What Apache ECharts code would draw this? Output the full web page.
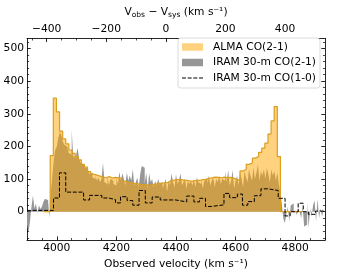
<!DOCTYPE html>
<html><head><meta charset="utf-8">
<script src="https://cdn.jsdelivr.net/npm/echarts@6/dist/echarts.min.js"></script>
<style>html,body{margin:0;padding:0;background:#fff}#c{width:364px;height:275px}</style>
</head><body><div id="c"></div>
<script>
// ALMA CO(2-1): uniform channels
const almaStart = 3957.0;
const almaWidth = 10.44;
const almaValues = [0, 0,
  172, 348, 306, 247, 223, 208, 189, 179, 169, 159,
  145, 137, 123, 115, 112, 109, 106, 104, 108, 103,
  105, 104, 102, 94, 91, 89, 87, 86, 84, 83,
  82, 81, 83, 85, 87, 88, 88, 90, 96, 97,
  98, 98, 97, 96, 94, 94, 96, 96, 98, 99,
  102, 104, 106, 105, 104, 106, 104, 105, 103, 99,
  96, 125, 130, 145, 150, 164, 170, 182, 195, 210,
  238, 278, 322, 169,
  0, 0, 0, 0, 0, 0, 0];

// IRAM 30-m CO(2-1): uniform 5 km/s channels from 3900
const iramStart = 3900;
const iramWidth = 5;
const iramValues = [
  -40, -62, -30, 15, 50, 10, 25, -5, 20, 8,
  15, 30, 40, 35, 45, -20, 60, 110, 160, 190,
  200, 225, 245, 235, 215, 205, 200, 195, 180, 175,
  250, 170, 165, 175, 195, 160, 150, 145, 140, 135,
  135, 125, 115, 120, 105, 100, 110, 95, 105, 90,
  100, 150, 90, 85, 110, 80, 100, 95, 85, 80,
  105, 85, 122, 95, 118, 100, 80, 120, 95, 110,
  95, 130, 80, 90, 105, 75, 115, 140, 135, 85,
  120, 70, 118, 90, 100, 75, 95, 80, 100, 85,
  90, 70, 85, 100, 60, 95, 80, 117, 90, 75,
  115, 85, 95, 118, 80, 90, 100, 70, 95, 85,
  95, 80, 100, 75, 105, 90, 85, 100, 70, 95,
  100, 85, 110, 80, 95, 105, 75, 100, 90, 110,
  85, 100, 95, 125, 90, 128, 80, 95, 127, 70,
  95, 110, 80, 120, 100, 75, 125, 105, 90, 130,
  110, 95, 135, 100, 120, 145, 95, 125, 110, 130,
  100, 135, 115, 90, 130, 110, 125, 95, 120, 85,
  60, 25, -20, -35, -10, 15, -30, 20, 25, -5,
  5, -10, 10, 0, -20, 15, -45, -40, 30, -50,
  10, -15, 20, 35, -30, 40, -20, 10, -15, 5];

// IRAM 30-m CO(1-0): channel edges and levels
const co10Edges = [3900, 3989, 4009, 4030, 4090, 4110, 4151, 4174, 4197, 4214,
  4236, 4255, 4276, 4297, 4320, 4347, 4399, 4436, 4460, 4479,
  4499, 4518, 4561, 4580, 4606, 4623, 4641, 4663, 4685, 4709,
  4743, 4766, 4783, 4810, 4827, 4844, 4868, 4900];
const co10Values = [4, 42, 119, 60, 36, 50, 42, 37, 27, 46,
  34, 20, 65, 27, 45, 36, 30, 48, 30, 41,
  16, 21, 56, 43, 54, 20, 31, 49, 70, 65,
  41, -13, 0, 26, 0, -8, 2];

const vSys = 4366;
const xMin = 3900, xMax = 4900;
const yMin = -87, yMax = 531;
const xMajorTicks = [4000, 4200, 4400, 4600, 4800];
const xMinorTicks = [3900, 3950, 4050, 4100, 4150, 4250, 4300, 4350, 4450, 4500, 4550, 4650, 4700, 4750, 4850, 4900];
const topMajorTicks = [-400, -200, 0, 200, 400];
const topMinorTicks = [-450, -350, -300, -250, -150, -100, -50, 50, 100, 150, 250, 300, 350, 450, 500];
const yMajorTicks = [0, 100, 200, 300, 400, 500];
const yMinorTicks = [-80, -60, -40, -20, 20, 40, 60, 80, 120, 140, 160, 180, 220, 240, 260, 280,
  320, 340, 360, 380, 420, 440, 460, 480, 520];

function uniformSteps(start, width, values) {
  const d = values.map((v, i) => [start + i * width, v]);
  d.push([start + values.length * width, values[values.length - 1]]);
  return d;
}
function edgeSteps(edges, values) {
  const d = values.map((v, i) => [edges[i], v]);
  d.push([edges[edges.length - 1], values[values.length - 1]]);
  return d;
}

const FONT = 'DejaVu Sans';
const FS = 10.7;
const tickMajor = (vals) => ({ show: true, inside: true, length: 3.7, customValues: vals, lineStyle: { color: '#000', width: 0.85 } });
const tickMinor = (vals) => ({ show: true, inside: true, length: 2.1, customValues: vals, lineStyle: { color: '#000', width: 0.7 } });
const line = (show) => ({ show: show, onZero: false, lineStyle: { color: '#000', width: 0.85 } });
const minusFmt = v => (v < 0 ? '\u2212' + Math.abs(v) : String(v));
const plainFmt = v => String(v);
const dashIcon = 'path://M0,0H3.9V1H0Z M5.6,0H9.5V1H5.6Z M11.2,0H15.1V1H11.2Z M16.8,0H20.7V1H16.8Z';

const chart = echarts.init(document.getElementById('c'), null, { renderer: 'canvas' });
chart.setOption({
  animation: false,
  textStyle: { fontFamily: FONT },
  grid: { left: 27, right: 39, top: 33, bottom: 31 },
  legend: {
    orient: 'vertical', left: 178, top: 38,
    padding: [3, 4, 4, 4], itemGap: 3.5, itemWidth: 21, itemHeight: 7.5,
    backgroundColor: '#fff', borderColor: '#d2d2d2', borderWidth: 0.8, borderRadius: 3,
    textStyle: { fontFamily: FONT, fontSize: FS, color: '#000', lineHeight: 12, padding: [0, 0, 0, 5] },
    data: [
      { name: 'ALMA CO(2-1)', icon: 'rect', itemStyle: { color: 'rgba(255,165,0,0.5)', borderWidth: 0 } },
      { name: 'IRAM 30-m CO(2-1)', icon: 'rect', itemStyle: { color: '#979797', borderWidth: 0 } },
      { name: 'IRAM 30-m CO(1-0)', icon: dashIcon, itemStyle: { color: '#000', borderWidth: 0 }, lineStyle: { width: 0 } }
    ]
  },
  xAxis: [
    { type: 'value', position: 'bottom', min: xMin, max: xMax, axisLine: line(true),
      axisTick: tickMajor(xMajorTicks), splitLine: { show: false },
      axisLabel: { customValues: xMajorTicks, formatter: plainFmt, margin: 3, fontSize: FS, color: '#000', fontFamily: FONT },
      name: 'Observed velocity (km s\u207B\u00B9)', nameLocation: 'middle', nameGap: 16,
      nameTextStyle: { fontSize: FS, color: '#000', fontFamily: FONT } },
    { type: 'value', position: 'bottom', min: xMin, max: xMax, axisLine: line(false),
      axisTick: tickMinor(xMinorTicks), axisLabel: { show: false }, splitLine: { show: false } },
    { type: 'value', position: 'top', min: xMin - vSys, max: xMax - vSys, axisLine: line(true),
      axisTick: tickMajor(topMajorTicks), splitLine: { show: false },
      axisLabel: { customValues: topMajorTicks, margin: 3.5, fontSize: FS, color: '#000', fontFamily: FONT, formatter: minusFmt },
      name: 'V{s|obs} \u2212 V{s|sys} (km s\u207B\u00B9)', nameLocation: 'middle', nameGap: 17,
      nameTextStyle: { fontSize: FS, color: '#000', fontFamily: FONT, lineHeight: 14,
        rich: { s: { fontSize: 7.5, lineHeight: 8, verticalAlign: 'bottom', color: '#000', fontFamily: FONT } } } },
    { type: 'value', position: 'top', min: xMin - vSys, max: xMax - vSys, axisLine: line(false),
      axisTick: tickMinor(topMinorTicks), axisLabel: { show: false }, splitLine: { show: false } }
  ],
  yAxis: [
    { type: 'value', position: 'left', min: yMin, max: yMax, axisLine: line(true),
      axisTick: tickMajor(yMajorTicks), splitLine: { show: false },
      axisLabel: { customValues: yMajorTicks, formatter: plainFmt, margin: 3, fontSize: FS, color: '#000', fontFamily: FONT } },
    { type: 'value', position: 'left', min: yMin, max: yMax, axisLine: line(false),
      axisTick: tickMinor(yMinorTicks), axisLabel: { show: false }, splitLine: { show: false } },
    { type: 'value', position: 'right', min: yMin, max: yMax, axisLine: line(true),
      axisTick: tickMajor(yMajorTicks), axisLabel: { show: false }, splitLine: { show: false } },
    { type: 'value', position: 'right', min: yMin, max: yMax, axisLine: line(false),
      axisTick: tickMinor(yMinorTicks), axisLabel: { show: false }, splitLine: { show: false } }
  ],
  series: [
    { name: 'IRAM 30-m CO(2-1)', type: 'line', step: 'end', symbol: 'none', z: 1,
      xAxisIndex: 0, yAxisIndex: 0, color: '#979797',
      data: uniformSteps(iramStart, iramWidth, iramValues),
      lineStyle: { width: 0, color: '#979797' },
      areaStyle: { color: '#979797', opacity: 1 } },
    { name: 'ALMA CO(2-1)', type: 'line', step: 'end', symbol: 'none', z: 2,
      xAxisIndex: 0, yAxisIndex: 0, color: '#DB9E1E',
      data: uniformSteps(almaStart, almaWidth, almaValues),
      lineStyle: { width: 1.2, color: '#DB9E1E' },
      areaStyle: { color: 'rgba(255,165,0,0.5)', opacity: 1 } },
    { name: 'IRAM 30-m CO(1-0)', type: 'line', step: 'end', symbol: 'none', z: 3,
      xAxisIndex: 0, yAxisIndex: 0, color: '#000',
      data: edgeSteps(co10Edges, co10Values),
      lineStyle: { width: 1.0, color: '#000', type: [4, 1.7] } }
  ]
});
</script></body></html>
